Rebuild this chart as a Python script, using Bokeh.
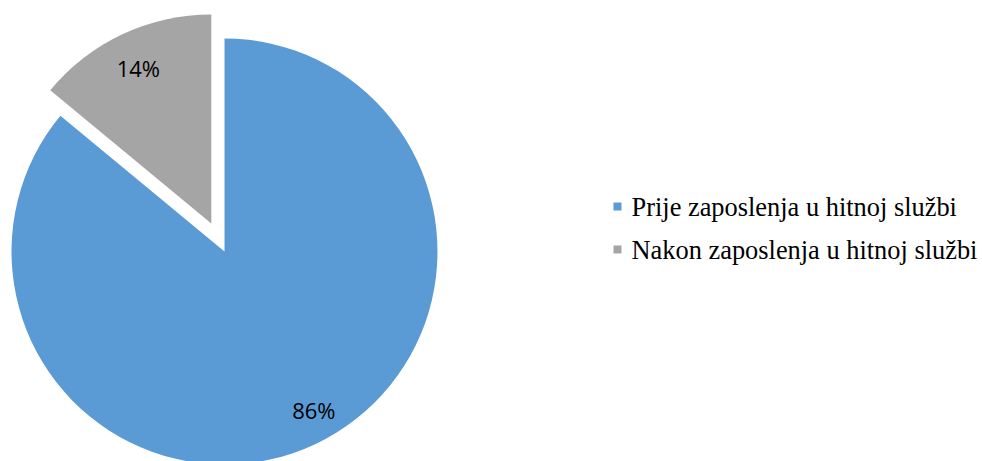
import numpy as np
from bokeh.plotting import figure
from bokeh.models import Range1d
from bokeh.core.properties import value
from bokeh.embed import file_html
from bokeh.resources import INLINE

categories = ["Prije zaposlenja u hitnoj službi", "Nakon zaposlenja u hitnoj službi"]
shares = [86, 14]
labels = ["86%", "14%"]
colors = ["#5B9BD5", "#A5A5A5"]
explode = [0, 31]

W, H = 982, 461
OFF = 1
p = figure(width=W, height=H, output_backend="svg", toolbar_location=None,
           x_range=Range1d(OFF, OFF + W), y_range=Range1d(461 - OFF - H, 461 - OFF),
           min_border=0)
p.axis.visible = False
p.grid.visible = False
p.outline_line_color = None
p.background_fill_color = "white"

cx, cy = 225, 461 - 252
radii = [213, 209]
fr = np.array(shares) / sum(shares)
ends = np.cumsum(fr)
starts = ends - fr
for i in range(len(shares)):
    r = radii[i]
    a0 = np.pi / 2 - 2 * np.pi * starts[i]
    a1 = np.pi / 2 - 2 * np.pi * ends[i]
    mid = (a0 + a1) / 2
    ox = cx + explode[i] * np.cos(mid)
    oy = cy + explode[i] * np.sin(mid)
    p.wedge(x=[ox], y=[oy], radius=r, start_angle=a0, end_angle=a1,
            direction="clock", fill_color=colors[i], line_color=None)
    lx = ox + 0.82 * r * np.cos(mid)
    ly = oy + 0.82 * r * np.sin(mid)
    if i == 0:
        lx += 15
    p.text(x=[lx], y=[ly], text=[labels[i]], text_align="center", text_baseline="middle",
           text_font=value("Open Sans"), text_font_size="22px", text_color="#000000")

# legend
ly0 = [461 - 207, 461 - 250]
for i, c in enumerate(categories):
    p.scatter(x=[618], y=[ly0[i]], marker="square", size=8, fill_color=colors[i], line_color=None)
    p.text(x=[632], y=[ly0[i]], text=[c], text_align="left", text_baseline="middle",
           text_font=value("Liberation Serif"), text_font_size="26.4px", text_color="#000000")

open("out.html", "w").write(file_html(p, INLINE))
